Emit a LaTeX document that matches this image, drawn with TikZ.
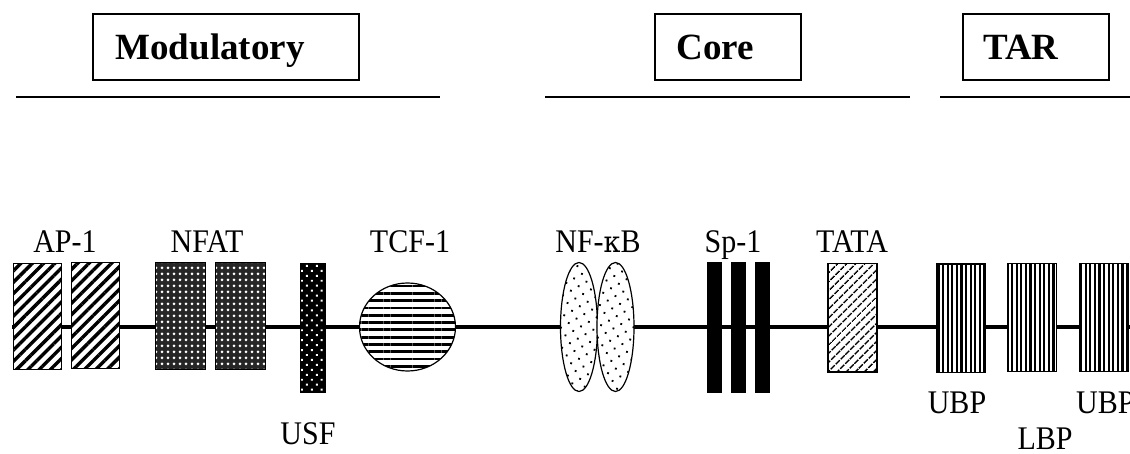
\documentclass[tikz,border=0pt]{standalone}
\usepackage{fontspec}
\setmainfont{Liberation Serif}
\newfontfamily\greekfont{DejaVu Serif}
\usetikzlibrary{shapes.geometric,patterns.meta}
\newcommand{\stretchtext}[1]{\scalebox{1}[1.1]{#1}}
\begin{document}
\begin{tikzpicture}[x=1pt,y=-1pt,
  lbl/.style={font=\fontsize{30}{30}\selectfont, inner sep=0pt, anchor=base},
  head/.style={draw, line width=1.5pt, font=\fontsize{37}{37}\selectfont\bfseries, minimum height=66pt, inner sep=0pt, text depth=0pt},
  site/.style={draw, line width=1.2pt, rectangle, inner sep=0pt, anchor=north west},
  ap/.style={site, minimum width=48pt, minimum height=106pt, preaction={fill=white}, pattern={Lines[angle=45,distance=8pt,line width=3.4pt]}},
  nfat/.style={site, minimum width=50pt, minimum height=107pt, preaction={fill=black!85}, pattern={Dots[distance=6pt,radius=1.5pt]}, pattern color=white},
  usf/.style={site, minimum width=25pt, minimum height=129pt, preaction={fill=black}, pattern={Dots[distance=7pt,angle=45,radius=1.4pt]}, pattern color=white},
  tcf/.style={draw, line width=1.2pt, ellipse, minimum width=96pt, minimum height=88pt, inner sep=0pt, preaction={fill=white}, pattern={Lines[angle=0,distance=7.3pt,line width=2.8pt]}},
  nfkb/.style={draw, line width=1.2pt, ellipse, minimum width=37pt, minimum height=129pt, inner sep=0pt, preaction={fill=white}, pattern={Dots[distance=9pt,angle=30,radius=1.3pt]}},
  sp/.style={site, line width=0pt, fill=black, minimum width=14pt, minimum height=129pt},
  tata/.style={site, minimum width=49pt, minimum height=108pt, preaction={fill=white}, pattern={Lines[angle=45,distance=6.5pt,line width=1.8pt]}},
  ubp/.style={site, minimum width=49pt, minimum height=108pt, preaction={fill=white}, pattern={Lines[angle=90,distance=4.6pt,line width=2.2pt]}},
  rule/.style={line width=2pt},
  mainline/.style={line width=4pt}
]
\useasboundingbox (0,0) rectangle (1130,454);

% header boxes
\node[head, minimum width=266pt] (modh) at (226,47) {\hspace*{-32pt}Modulatory};
\node[head, minimum width=146pt] (coreh) at (728,47) {\hspace*{-26pt}Core};
\node[head, minimum width=146pt] (tarh) at (1036,47) {\hspace*{-30pt}TAR};

% header rules
\coordinate (m0) at (16,97); \coordinate (m1) at (440,97);
\coordinate (c0) at (545,97); \coordinate (c1) at (910,97);
\coordinate (t0) at (940,97); \coordinate (t1) at (1130,97);
\draw[rule] (m0) -- (m1);
\draw[rule] (c0) -- (c1);
\draw[rule] (t0) -- (t1);

% main DNA line
\coordinate (L0) at (12,327); \coordinate (L1) at (1130,327);
\draw[mainline] (L0) -- (L1);

% sites
\node[ap] (ap1) at (12,262) {};
\node[ap] (ap2) at (71,262) {};
\node[nfat] (nf1) at (155,262) {};
\node[nfat] (nf2) at (215,262) {};
\node[usf] (usf) at (300,263) {};
\node[tcf] (tcf) at (407.5,327) {};
\node[nfkb] (kb1) at (579,327) {};
\node[nfkb] (kb2) at (615.5,327) {};
\node[sp] (sp1) at (707,263) {};
\node[sp] (sp2) at (731,263) {};
\node[sp] (sp3) at (755,263) {};
\node[tata] (tata) at (827,263) {};
\node[ubp] (ubp1) at (935,263) {};
\node[ubp] (lbp) at (1007,263) {};
\node[ubp] (ubp2) at (1079,263) {};

% labels
\node[lbl] (tap) at (65,253) {\stretchtext{AP-1}};
\node[lbl] (tnfat) at (207,253) {\stretchtext{NFAT}};
\node[lbl] (ttcf) at (410,253) {\stretchtext{TCF-1}};
\node[lbl] (tkb) at (598,253) {\stretchtext{NF-{\greekfont\fontsize{27}{27}\selectfont κ}B}};
\node[lbl] (tsp) at (733,253) {\stretchtext{Sp-1}};
\node[lbl] (ttata) at (852,253) {\stretchtext{TATA}};
\node[lbl] (tusf) at (308,444) {\stretchtext{USF}};
\node[lbl] (tubp1) at (957,413) {\stretchtext{UBP}};
\node[lbl, anchor=base west] (tubp2) at (1076,413) {\stretchtext{UBP}};
\node[lbl] (tlbp) at (1045,449) {\stretchtext{LBP}};
\end{tikzpicture}
\end{document}
